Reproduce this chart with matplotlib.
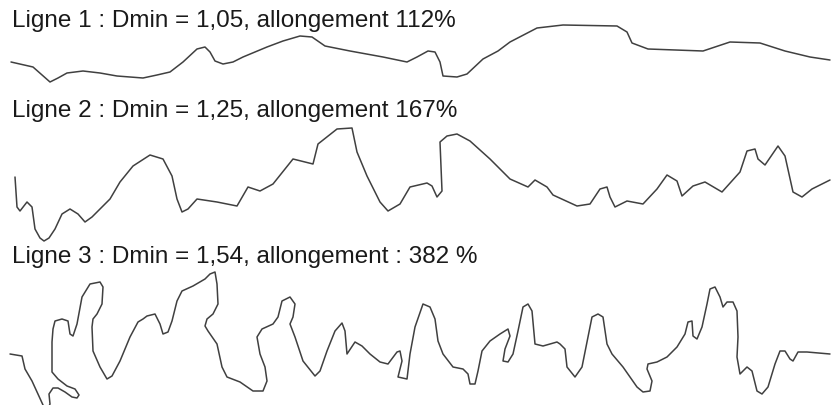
import matplotlib
matplotlib.use("Agg")
import matplotlib.pyplot as plt

titles = [
    "Ligne 1 : Dmin = 1,05, allongement 112%",
    "Ligne 2 : Dmin = 1,25, allongement 167%",
    "Ligne 3 : Dmin = 1,54, allongement : 382 %",
]
title_y = [27, 117, 263]

line1_x = [11, 33, 50, 58, 67, 83, 100, 117, 143, 157, 170, 183, 197, 205, 210, 215, 223, 233, 243, 267,
           283, 300, 312, 325, 350, 383, 407, 417, 428, 435, 440, 443, 457, 467, 483, 498, 510, 537, 563,
           617, 627, 632, 648, 703, 730, 760, 785, 810, 830]
line1_y = [63, 68, 83, 79, 74, 72, 74, 77, 79, 76, 73, 63, 50, 48, 53, 62, 65, 63, 58, 48,
           42, 37, 38, 47, 52, 58, 63, 58, 52, 53, 63, 77, 78, 75, 60, 52, 43, 29, 26,
           27, 33, 44, 50, 52, 43, 44, 52, 58, 61]

line2_x = [15, 17, 20, 27, 32, 35, 40, 44, 49, 55, 62, 70, 78, 85, 92, 110, 120, 133, 150, 163, 172, 177,
           182, 188, 197, 217, 237, 248, 260, 273, 293, 313, 318, 337, 352, 357, 367, 380, 388, 400, 410,
           427, 432, 437, 442, 440, 447, 457, 470, 490, 510, 528, 535, 547, 553, 577, 590, 600, 607, 610,
           615, 627, 643, 657, 667, 677, 682, 693, 705, 722, 740, 747, 755, 758, 765, 778, 785, 793, 802,
           812, 830]
line2_y = [178, 208, 212, 203, 208, 230, 239, 242, 239, 230, 215, 210, 215, 223, 218, 200, 183, 167, 156, 160, 177, 200,
           213, 210, 200, 203, 207, 188, 192, 185, 160, 165, 145, 130, 129, 153, 177, 203, 212, 205, 188,
           184, 187, 198, 192, 143, 137, 135, 142, 160, 180, 188, 181, 188, 196, 207, 205, 190, 188, 198,
           208, 202, 205, 190, 176, 182, 197, 187, 183, 193, 173, 152, 150, 160, 166, 147, 157, 193, 198,
           190, 181]

line3_x = [10, 22, 25, 32, 38, 43, 45, 46, 50, 49, 53, 58, 65, 72, 77, 79, 75, 67, 58, 52, 52, 53, 55, 62,
           68, 70, 73, 77, 82, 90, 100, 103, 102, 97, 93, 92, 93, 100, 107, 112, 120, 130, 138, 143, 147,
           155, 160, 163, 168, 172, 177, 182, 193, 205, 210, 215, 217, 218, 213, 207, 205, 208, 217, 222,
           227, 240, 253, 263, 267, 265, 260, 257, 262, 273, 278, 282, 290, 295, 293, 290, 295, 303, 315,
           320, 327, 335, 342, 345, 347, 355, 362, 370, 380, 388, 397, 400, 402, 398, 407, 410, 415, 423,
           430, 435, 438, 443, 453, 463, 468, 470, 475, 478, 482, 490, 500, 508, 510, 505, 503, 508, 513,
           518, 523, 528, 532, 535, 543, 557, 560, 565, 567, 575, 582, 588, 592, 598, 603, 607, 612, 623,
           637, 643, 650, 652, 647, 648, 657, 667, 677, 685, 688, 692, 693, 697, 702, 707, 710, 715, 720,
           723, 727, 733, 737, 738, 737, 740, 747, 752, 757, 762, 768, 775, 780, 785, 790, 793, 798, 807,
           830]
line3_y = [355, 357, 370, 382, 395, 406, 414, 414, 405, 395, 389, 389, 393, 398, 399, 396, 390, 387, 380, 373, 343, 330, 322, 320,
           322, 335, 337, 325, 298, 285, 283, 288, 305, 315, 320, 328, 352, 368, 380, 377, 362, 338, 323, 320, 317,
           315, 325, 335, 333, 322, 302, 292, 287, 280, 275, 273, 285, 305, 315, 320, 327, 332, 345, 368,
           378, 383, 392, 392, 382, 368, 355, 338, 330, 325, 318, 302, 298, 305, 318, 325, 338, 362, 377,
           372, 352, 332, 324, 332, 355, 343, 347, 355, 363, 365, 353, 352, 362, 378, 380, 355, 328, 305,
           308, 320, 342, 355, 368, 370, 375, 385, 385, 372, 352, 342, 335, 330, 337, 350, 362, 363, 355,
           332, 308, 305, 312, 345, 347, 343, 345, 350, 368, 378, 368, 338, 318, 315, 318, 345, 355, 368,
           388, 393, 392, 382, 370, 365, 363, 358, 348, 335, 323, 322, 337, 340, 328, 305, 290, 288, 298,
           308, 303, 303, 312, 338, 358, 375, 368, 372, 392, 395, 388, 365, 352, 352, 360, 362, 353, 353,
           355]

fig = plt.figure(figsize=(8.31, 4.06), dpi=100)
ax = fig.add_axes([0, 0, 1, 1])
ax.set_xlim(0, 831)
ax.set_ylim(406, 0)
ax.axis("off")

col = "#404040"
for xs, ys in [(line1_x, line1_y), (line2_x, line2_y), (line3_x, line3_y)]:
    ax.plot(xs, ys, color=col, lw=1.1, solid_joinstyle="round", solid_capstyle="round")

for t, y in zip(titles, title_y):
    ax.text(12, y, t, fontsize=17.5, family=["Liberation Sans", "DejaVu Sans"],
            color="#1a1a1a", va="baseline", ha="left")

fig.savefig("out.png", dpi=100, facecolor="white")
